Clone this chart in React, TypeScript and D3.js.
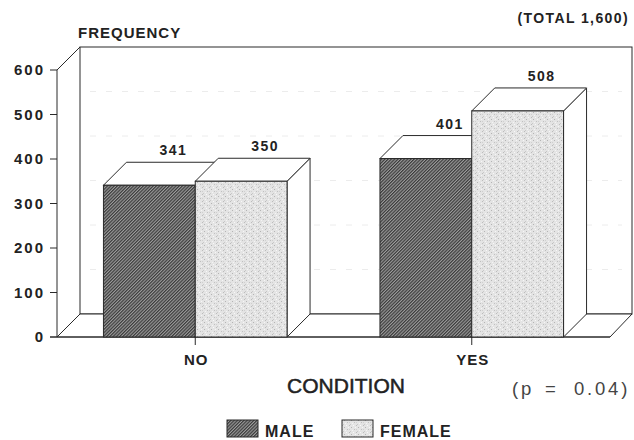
import React from "react";
import * as d3 from "d3";

const categories = ["NO", "YES"];
const series = ["MALE", "FEMALE"];
const maleValues = [341, 401];
const femaleValues = [350, 508];
const yTicks = [0, 100, 200, 300, 400, 500, 600];

const W = 634;
const H = 440;
const DX = 23;
const DY = -23;
const FONT = "'Liberation Sans', Arial, Helvetica, sans-serif";

export default function App() {
  const y = d3.scaleLinear().domain([0, 600]).range([337, 70]);
  const x = d3
    .scaleBand<string>()
    .domain(categories)
    .range([57, 610])
    .paddingInner(0.336)
    .paddingOuter(0.168);
  const xs = d3.scaleBand<string>().domain(series).range([0, x.bandwidth()]).padding(0);
  const values: Record<string, number[]> = { MALE: maleValues, FEMALE: femaleValues };
  const fills: Record<string, string> = { MALE: "url(#hatch)", FEMALE: "url(#stipple)" };

  const y0 = y(0);
  const yTop = y(600);
  const xL = 57;
  const xR = 610;
  const stroke = "#2a2a2a";

  const bars: React.ReactNode[] = [];
  categories.forEach((c, ci) => {
    series.forEach((s) => {
      const v = values[s][ci];
      const x0 = (x(c) as number) + (xs(s) as number);
      const x1 = x0 + xs.bandwidth();
      const yv = y(v);
      bars.push(
        <g key={c + s}>
          <polygon
            points={`${x1},${yv} ${x1 + DX},${yv + DY} ${x1 + DX},${y0 + DY} ${x1},${y0}`}
            fill="#fff"
            stroke={stroke}
            strokeWidth={1}
          />
          <polygon
            points={`${x0},${yv} ${x0 + DX},${yv + DY} ${x1 + DX},${yv + DY} ${x1},${yv}`}
            fill="#fff"
            stroke={stroke}
            strokeWidth={1}
          />
          <rect x={x0} y={yv} width={x1 - x0} height={y0 - yv} fill={fills[s]} stroke={stroke} strokeWidth={1} />
          <text
            x={(x0 + x1) / 2 + DX + 1}
            y={yv + DY - 7}
            textAnchor="middle"
            fontFamily={FONT}
            fontWeight="bold"
            fontSize={14}
            letterSpacing={1.5}
            fill="#222"
          >
            {v}
          </text>
        </g>
      );
    });
  });

  return (
    <svg width={W} height={H} style={{ position: "absolute", left: 0, top: 0, background: "#fff" }}>
      <defs>
        <pattern id="hatch" width={2.3} height={2.3} patternUnits="userSpaceOnUse" patternTransform="rotate(45)">
          <rect width={2.3} height={2.3} fill="#9c9c9c" />
          <line x1={0.6} y1={0} x2={0.6} y2={2.3} stroke="#333" strokeWidth={1.1} />
        </pattern>
        <pattern id="stipple" width={7} height={7} patternUnits="userSpaceOnUse">
          <rect width={7} height={7} fill="#e4e4e4" />
          <rect x={1} y={0} width={1} height={1} fill="#b4b4b4" />
          <rect x={4} y={2} width={1} height={1} fill="#c0c0c0" />
          <rect x={0} y={4} width={1} height={1} fill="#c8c8c8" />
          <rect x={3} y={5} width={1} height={1} fill="#f8f8f8" />
          <rect x={6} y={5} width={1} height={1} fill="#bcbcbc" />
          <rect x={2} y={3} width={1} height={1} fill="#f4f4f4" />
          <rect x={5} y={0} width={1} height={1} fill="#f6f6f6" />
          <rect x={6} y={2} width={1} height={1} fill="#cfcfcf" />
        </pattern>
      </defs>

      {/* back wall */}
      <rect x={xL + DX} y={yTop + DY} width={632 - (xL + DX)} height={y0 - yTop} fill="#fff" stroke={stroke} strokeWidth={1} />
      {yTicks.slice(1, -1).map((t) => (
        <line
          key={"g" + t}
          x1={xL + DX + 10}
          x2={632 - 10}
          y1={y(t) + DY}
          y2={y(t) + DY}
          stroke="#ececec"
          strokeWidth={1}
          strokeDasharray="6 10"
        />
      ))}
      {/* floor */}
      <polygon
        points={`${xL},${y0} ${xL + DX},${y0 + DY} ${632},${y0 + DY} ${xR},${y0}`}
        fill="#fff"
        stroke={stroke}
        strokeWidth={1}
      />
      {/* left axis */}
      <line x1={xL} x2={xL} y1={yTop} y2={y0} stroke={stroke} strokeWidth={1} />
      <line x1={xL} x2={xL + DX} y1={yTop} y2={yTop + DY} stroke={stroke} strokeWidth={1} />
      <line x1={50} x2={xR} y1={y0} y2={y0} stroke={stroke} strokeWidth={1} />
      {yTicks.map((t) => (
        <g key={"t" + t}>
          <line x1={50} x2={xL} y1={y(t)} y2={y(t)} stroke={stroke} strokeWidth={1} />
          <text
            x={45}
            y={y(t) + 5}
            textAnchor="end"
            fontFamily={FONT}
            fontWeight="bold"
            fontSize={15}
            letterSpacing={2}
            fill="#222"
          >
            {t}
          </text>
        </g>
      ))}

      {bars}

      {categories.map((c) => {
        const cx = (x(c) as number) + x.bandwidth() / 2;
        return (
          <g key={"c" + c}>
            <line x1={cx} x2={cx} y1={y0} y2={y0 + 8} stroke={stroke} strokeWidth={1} />
            <text x={cx + 1} y={365} textAnchor="middle" fontFamily={FONT} fontWeight="bold" fontSize={15} letterSpacing={1} fill="#222">
              {c}
            </text>
          </g>
        );
      })}

      <text x={78} y={38} fontFamily={FONT} fontWeight="bold" fontSize={15} letterSpacing={1} fill="#222">
        FREQUENCY
      </text>
      <text x={629} y={23} textAnchor="end" fontFamily={FONT} fontWeight="bold" fontSize={14} letterSpacing={1.4} fill="#222">
        (TOTAL 1,600)
      </text>
      <text x={346} y={393} textAnchor="middle" fontFamily={FONT} fontSize={21} fill="#222" stroke="#222" strokeWidth={0.5}>
        CONDITION
      </text>
      <text fontFamily={FONT} fontSize={18.5} letterSpacing={2.8} fill="#444" y={395}>
        <tspan x={512}>(p</tspan>
        <tspan x={545}>=</tspan>
        <tspan x={574}>0.04)</tspan>
      </text>

      {/* legend */}
      <rect x={227} y={420} width={31} height={17} fill="url(#hatch)" stroke={stroke} strokeWidth={1} />
      <text x={265} y={437} fontFamily={FONT} fontWeight="bold" fontSize={16} letterSpacing={1} fill="#222">
        MALE
      </text>
      <rect x={342} y={420} width={31} height={17} fill="url(#stipple)" stroke={stroke} strokeWidth={1} />
      <text x={380} y={437} fontFamily={FONT} fontWeight="bold" fontSize={16} letterSpacing={1} fill="#222">
        FEMALE
      </text>
    </svg>
  );
}
